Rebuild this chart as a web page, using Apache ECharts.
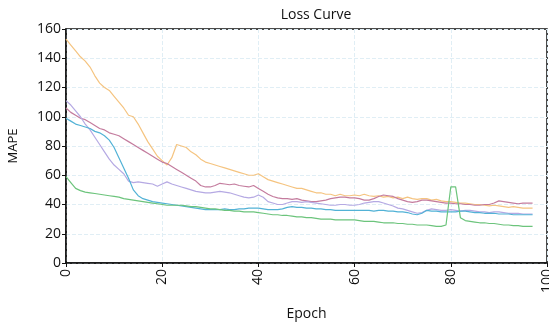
<!DOCTYPE html>
<html>
<head>
<meta charset="utf-8">
<script src="https://cdn.jsdelivr.net/npm/echarts@6/dist/echarts.min.js"></script>
<style>
  html, body { margin: 0; padding: 0; background: #fff; }
  #chart { width: 549px; height: 323px; }
</style>
</head>
<body>
<div id="chart"></div>
<script>
// epochs 0..97
const epochs = Array.from({ length: 98 }, (_, i) => i);

const lossOrange = [153, 149, 145, 141, 138, 134, 128, 123, 120, 118, 114, 110, 106, 101, 100, 95, 89, 83, 78, 73,
  70, 67, 72, 81, 80, 79, 76, 74, 71, 69, 68, 67, 66, 65, 64, 63, 62, 61, 60, 60,
  61, 59, 57, 56, 55, 54, 53, 52, 51, 51, 50, 49, 48, 48, 47, 47, 46, 47, 46, 46,
  46.5, 46, 47, 46, 45.5, 46, 45, 45.5, 44.5, 45, 44, 45, 44, 43.5, 44, 44, 43, 43.5, 42.5, 42,
  42, 41.5, 41, 41, 40.5, 40, 40, 39.5, 39, 39.5, 39, 38.5, 38, 38.5, 38, 37.5, 37.5, 37.5];

const lossMauve = [106, 103, 101, 99, 98, 96, 94, 92, 91, 89, 88, 87, 85, 83, 81, 79, 77, 75, 73, 71,
  69, 68, 66, 64, 62, 60, 58, 56, 53, 52, 52, 53, 54.5, 54, 53.5, 54, 53, 52.5, 52, 53,
  51, 49, 47, 45.5, 44.5, 44, 44, 43.5, 44, 43, 42.5, 42, 42, 42.5, 43, 44, 44.5, 45, 45, 44.5,
  44.5, 44, 43, 43, 44, 45.5, 46.5, 46, 45.5, 44, 43, 42, 41.5, 42, 43, 43, 42.5, 42, 41.5, 41,
  41, 40.5, 40.5, 40, 40, 39.5, 39.5, 40, 40, 41, 42.5, 42, 41.5, 41, 40.5, 41, 41, 41];

const lossLavender = [111, 108, 104, 100, 95, 91, 86, 81, 76, 71, 67, 64, 61, 56, 55, 55.5, 55, 54.5, 54, 52.5,
  54, 55.5, 54, 53, 52, 51, 50, 49, 48.5, 48, 48, 48.5, 49, 48.5, 48, 47, 46, 45, 44.5, 45,
  46.5, 45, 42, 41, 40, 40, 41, 42, 42, 41.5, 42, 41.5, 41, 40.5, 40, 39.5, 39.5, 40, 40, 39.5,
  39.5, 40, 41, 41.5, 42, 42, 41, 40, 39, 37.5, 37, 36, 35, 34, 34.5, 36, 37, 36.5, 36, 36,
  36.5, 36, 35.5, 36, 36, 35.5, 35, 35, 34.5, 35, 35, 34.5, 34, 34, 34, 33.5, 33.5, 33.5];

const lossBlue = [99, 97, 95, 94, 93, 92, 90, 89, 87, 84, 79, 72, 65, 58, 50, 46, 44, 43, 42, 41.5,
  41, 40.5, 40, 39.5, 39, 38.5, 38, 37.5, 37, 36.5, 36.5, 36.5, 36.5, 37, 36.5, 36.5, 37, 37, 37.5, 37.5,
  37.5, 37, 36.5, 36.5, 36.5, 37, 38, 38.5, 38, 38, 37.5, 37.5, 37, 37, 36.5, 36.5, 36, 36, 36, 36,
  36, 36, 36, 36, 35.5, 36, 36, 35.5, 35.5, 35, 35, 34.5, 33.5, 33, 34, 36, 35.5, 35.5, 35, 35,
  35, 35, 35.5, 35.5, 35, 34.5, 34.5, 34, 34, 34, 33.5, 33.5, 33.5, 33, 33, 33, 33, 33];

const lossGreen = [59, 55, 51, 49.5, 48.5, 48, 47.5, 47, 46.5, 46, 45.5, 45, 44, 43.5, 43, 42.5, 42, 41.5, 41, 40.5,
  40, 39.5, 39.5, 39.5, 39.5, 39, 38.5, 38.5, 38, 37.5, 37, 37, 36.5, 36, 36, 35.5, 35.5, 35, 35, 35,
  34.5, 34, 33.5, 33, 33, 32.5, 32.5, 32, 31.5, 31.5, 31, 31, 30.5, 30, 30, 30, 29.5, 29.5, 29.5, 29.5,
  29.5, 29, 28.5, 28.5, 28.5, 28, 27.5, 27.5, 27.5, 27, 27, 26.5, 26.5, 26, 26, 26, 25.5, 25, 25, 26,
  52, 52, 31, 29, 28.5, 28, 27.5, 27.5, 27, 27, 26.5, 26, 26, 25.5, 25.5, 25, 25, 25];

const xTicks = [0, 20, 40, 60, 80, 100];
const yTicks = [0, 20, 40, 60, 80, 100, 120, 140, 160];

const seriesList = [
  { data: lossOrange, color: '#f5c480' },
  { data: lossMauve, color: '#c47c9e' },
  { data: lossLavender, color: '#b5a9e3' },
  { data: lossBlue, color: '#52b2d6' },
  { data: lossGreen, color: '#6cc47c' }
];

const chart = echarts.init(document.getElementById('chart'));

const font = '"Open Sans", "DejaVu Sans", sans-serif';

const option = {
  animation: false,
  title: {
    text: 'Loss Curve',
    left: 311,
    top: 3,
    textAlign: 'center',
    textStyle: { fontFamily: font, fontSize: 14, fontWeight: 'normal', color: '#111' }
  },
  grid: {
    left: 66, right: 2, top: 29, bottom: 60,
    outerBoundsMode: 'none',
    show: true, borderColor: '#111', borderWidth: 1.5, backgroundColor: 'transparent'
  },
  xAxis: {
    type: 'value',
    min: xTicks[0],
    max: xTicks[xTicks.length - 1],
    interval: 20,
    name: 'Epoch',
    nameLocation: 'middle',
    nameGap: 44,
    nameTextStyle: { fontFamily: font, fontSize: 14, color: '#111' },
    axisLine: { lineStyle: { color: '#111', width: 1.5 } },
    axisTick: { show: true, length: 4, lineStyle: { color: '#111' } },
    axisLabel: { rotate: 90, fontFamily: font, fontSize: 14, color: '#111', margin: 6 },
    splitLine: { show: true, lineStyle: { color: '#e0eef5', type: 'dashed', width: 1 } }
  },
  yAxis: {
    type: 'value',
    min: yTicks[0],
    max: yTicks[yTicks.length - 1],
    interval: 20,
    name: 'MAPE',
    nameLocation: 'middle',
    nameGap: 46,
    nameTextStyle: { fontFamily: font, fontSize: 13, color: '#111' },
    axisLine: { show: true, lineStyle: { color: '#111', width: 1.5 } },
    axisTick: { show: true, length: 4, lineStyle: { color: '#111' } },
    axisLabel: { fontFamily: font, fontSize: 14, color: '#111', margin: 5 },
    splitLine: { show: true, lineStyle: { color: '#e0eef5', type: 'dashed', width: 1 } }
  },
  series: seriesList.map(s => ({
    type: 'line',
    data: epochs.map((e, i) => [e, s.data[i]]),
    showSymbol: false,
    lineStyle: { color: s.color, width: 1.2 },
    itemStyle: { color: s.color }
  }))
};

chart.setOption(option);
</script>
</body>
</html>
